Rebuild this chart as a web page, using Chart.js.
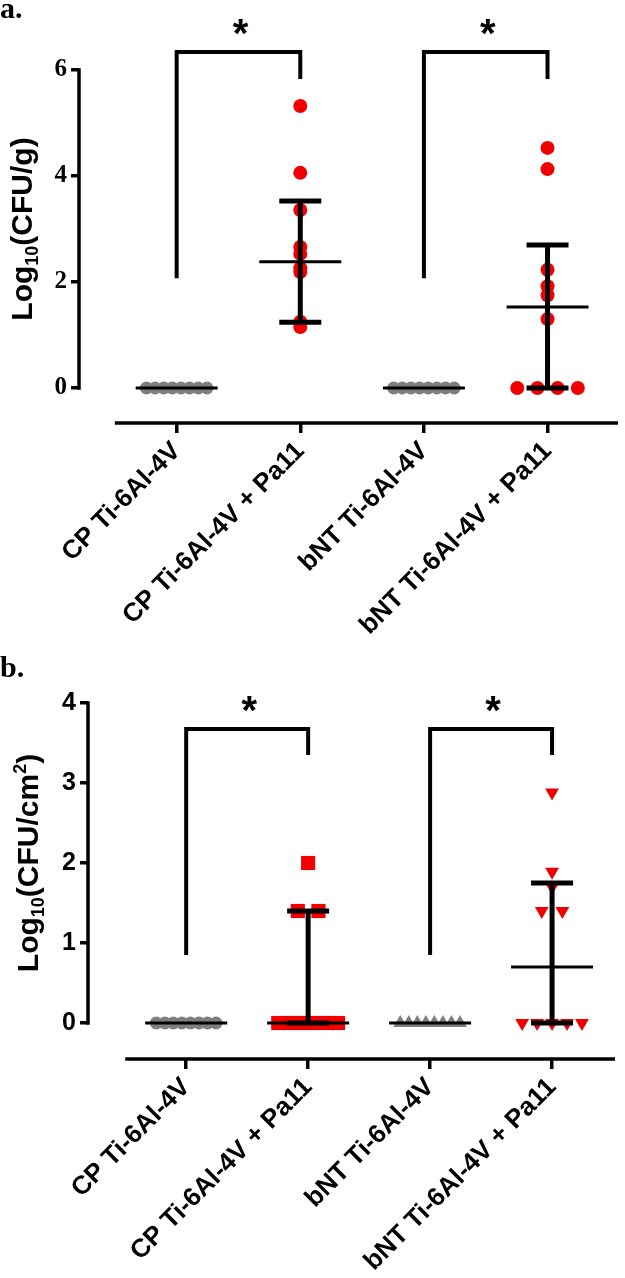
<!DOCTYPE html>
<html>
<head>
<meta charset="utf-8">
<script src="https://cdn.jsdelivr.net/npm/chart.js@4.4.1/dist/chart.umd.min.js"></script>
<style>
  body { margin: 0; width: 625px; height: 1278px; background: #fff; position: relative; overflow: hidden; }
  canvas { position: absolute; left: 0; }
  .panel-label { position: absolute; left: 0; font: bold 30px "Liberation Serif", serif; line-height: 30px; color: #000; }
</style>
</head>
<body>
<canvas id="chart-a" width="625" height="650" style="top:0"></canvas>
<canvas id="chart-b" width="625" height="628" style="top:650px"></canvas>
<div class="panel-label" style="top:-7px">a.</div>
<div class="panel-label" style="top:652px">b.</div>
<script>
// Log10 CFU, median with interquartile range, 4 groups per panel
const categories = ['CP Ti-6Al-4V', 'CP Ti-6Al-4V + Pa11', 'bNT Ti-6Al-4V', 'bNT Ti-6Al-4V + Pa11'];

// panel a: Log10(CFU/g)
const cpA = [0, 0, 0, 0, 0, 0, 0, 0];
const cpPaA = [5.32, 4.06, 3.36, 2.66, 2.53, 2.26, 2.19, 1.25, 1.15];
const bntA = [0, 0, 0, 0, 0, 0, 0, 0];
const bntPaA = [4.53, 4.13, 2.23, 1.92, 1.75, 1.3, 0, 0, 0, 0];
const medianA = [0, 2.38, 0, 1.53];
const q1A = [0, 1.24, 0, 0];
const q3A = [0, 3.53, 0, 2.70];
const yTicksA = [0, 2, 4, 6];

// panel b: Log10(CFU/cm2)
const cpB = [0, 0, 0, 0, 0, 0, 0, 0];
const cpPaB = [2.0, 1.4, 1.4, 0, 0, 0, 0, 0, 0, 0];
const bntB = [0, 0, 0, 0, 0, 0, 0, 0];
const bntPaB = [2.88, 1.89, 1.7, 1.4, 1.4, 0, 0, 0, 0, 0];
const medianB = [0, 0, 0, 0.7];
const q1B = [0, 0, 0, 0];
const q3B = [0, 1.4, 0, 1.75];
const yTicksB = [0, 1, 2, 3, 4];

// significance brackets (group pairs, bar level, left / right leg ends)
const bracketPairs = [[0, 1], [2, 3]];
const bracketTopA = [6.34, 6.34];
const bracketLeftA = [2.07, 2.07];
const bracketRightA = [5.83, 5.83];
const bracketTopB = [3.675, 3.675];
const bracketLeftB = [0.85, 0.85];
const bracketRightB = [3.35, 3.35];

const RED = '#f00000';
const GREY = '#7f7f7f';
const SANS = '"Liberation Sans", Arial, sans-serif';
const SERIF = '"Liberation Serif", "Times New Roman", serif';

// spread tied values side by side (category units)
const TIE_STEP = 0.169;
const TIE_SPAN = 0.49;
function spread(values, cat) {
    const counts = {};
    values.forEach(v => { counts[v] = (counts[v] || 0) + 1; });
    const seen = {};
    return values.map(v => {
        const k = counts[v];
        seen[v] = seen[v] === undefined ? 0 : seen[v] + 1;
        const step = k > 1 ? Math.min(TIE_STEP, TIE_SPAN / (k - 1)) : 0;
        return { x: cat + (seen[v] - (k - 1) / 2) * step, y: v };
    });
}

function drawRotatedTitle(ctx, parts, cx, cy) {
    ctx.save();
    ctx.translate(cx, cy);
    ctx.rotate(-Math.PI / 2);
    ctx.fillStyle = '#000';
    ctx.textBaseline = 'alphabetic';
    let total = 0;
    parts.forEach(p => {
        ctx.font = `bold ${p.size}px ${SANS}`;
        p.w = ctx.measureText(p.t).width;
        total += p.w;
    });
    let px = -total / 2;
    parts.forEach(p => {
        ctx.font = `bold ${p.size}px ${SANS}`;
        ctx.fillText(p.t, px, p.dy);
        px += p.w;
    });
    ctx.restore();
}

function makeDecor(cfg) {
    return {
        id: 'decor',
        beforeDatasetsDraw(chart) {
            const { ctx, scales: { x, y } } = chart;
            ctx.save();
            ctx.strokeStyle = '#000';
            ctx.lineWidth = 3.5;
            ctx.beginPath();
            ctx.moveTo(x.left, y.getPixelForValue(0) + 1.75);
            ctx.lineTo(x.left, y.getPixelForValue(cfg.yTop) - 1.75);
            ctx.moveTo(x.getPixelForValue(-0.5), y.bottom);
            ctx.lineTo(x.right, y.bottom);
            ctx.stroke();
            ctx.restore();
            drawRotatedTitle(ctx, cfg.title, cfg.titleX, (y.getPixelForValue(0) + y.getPixelForValue(cfg.yTop)) / 2);
        },
        afterDatasetsDraw(chart) {
            const { ctx, scales: { x, y } } = chart;
            ctx.save();
            ctx.strokeStyle = '#000';
            ctx.lineCap = 'butt';
            cfg.median.forEach((m, i) => {
                const cx = x.getPixelForValue(i);
                ctx.lineWidth = 3;
                ctx.beginPath();
                ctx.moveTo(cx - 41, y.getPixelForValue(m));
                ctx.lineTo(cx + 41, y.getPixelForValue(m));
                ctx.stroke();
                if (cfg.q3[i] > cfg.q1[i]) {
                    const lo = y.getPixelForValue(cfg.q1[i]);
                    const hi = y.getPixelForValue(cfg.q3[i]);
                    ctx.lineWidth = 5;
                    ctx.beginPath();
                    ctx.moveTo(cx, lo);
                    ctx.lineTo(cx, hi);
                    ctx.moveTo(cx - 21, lo);
                    ctx.lineTo(cx + 21, lo);
                    ctx.moveTo(cx - 21, hi);
                    ctx.lineTo(cx + 21, hi);
                    ctx.stroke();
                }
            });
            // brackets and stars
            ctx.lineWidth = 4;
            ctx.lineJoin = 'miter';
            ctx.fillStyle = '#000';
            ctx.font = `bold 40px ${SANS}`;
            ctx.textAlign = 'center';
            ctx.textBaseline = 'alphabetic';
            bracketPairs.forEach(([a, b], i) => {
                const xl = x.getPixelForValue(a);
                const xr = x.getPixelForValue(b);
                const top = y.getPixelForValue(cfg.bTop[i]);
                ctx.beginPath();
                ctx.moveTo(xl, y.getPixelForValue(cfg.bLeft[i]));
                ctx.lineTo(xl, top);
                ctx.lineTo(xr, top);
                ctx.lineTo(xr, y.getPixelForValue(cfg.bRight[i]));
                ctx.stroke();
                ctx.fillText('*', (xl + xr) / 2 + 2, top - 5);
            });
            ctx.restore();
        }
    };
}

function pointSet(values, cat, color, style, radius, rotation) {
    return {
        data: spread(values, cat),
        backgroundColor: color,
        borderWidth: 0,
        pointStyle: style,
        pointRadius: radius,
        pointHoverRadius: radius,
        rotation: rotation || 0,
        clip: false,
    };
}

function makeChart(id, cfg) {
    return new Chart(document.getElementById(id), {
        type: 'scatter',
        data: { datasets: cfg.datasets },
        options: {
            responsive: false,
            animation: false,
            devicePixelRatio: 1,
            events: [],
            layout: { padding: { top: cfg.padTop, right: cfg.padRight, left: 0, bottom: 0 } },
            plugins: { legend: { display: false }, tooltip: { enabled: false } },
            scales: {
                x: {
                    type: 'linear',
                    min: cfg.xMin,
                    max: cfg.xMax,
                    afterBuildTicks: s => { s.ticks = categories.map((c, i) => ({ value: i })); },
                    afterFit: s => { s.height = cfg.xHeight; s.paddingLeft = 0; s.paddingRight = 0; },
                    border: { display: false },
                    grid: { drawOnChartArea: false, drawTicks: true, tickLength: 10, lineWidth: 3.5, color: '#000' },
                    ticks: {
                        color: '#000',
                        autoSkip: false,
                        minRotation: 45,
                        maxRotation: 45,
                        padding: 3,
                        font: { family: SANS, weight: 'bold', size: 26 },
                        callback: v => categories[v],
                    },
                },
                y: {
                    min: cfg.yMin,
                    max: cfg.yMax,
                    afterBuildTicks: s => { s.ticks = cfg.yTicks.map(v => ({ value: v })); },
                    afterFit: s => { s.width = cfg.yWidth; s.paddingTop = 0; s.paddingBottom = 0; },
                    border: { display: false },
                    grid: { drawOnChartArea: false, drawTicks: true, tickLength: 8, lineWidth: 3.5, color: '#000' },
                    ticks: {
                        color: '#000',
                        autoSkip: false,
                        padding: 4,
                        font: { family: cfg.tickFamily, weight: 'bold', size: 25 },
                    },
                },
            },
        },
        plugins: [makeDecor(cfg)],
    });
}

makeChart('chart-a', {
    datasets: [
        pointSet(cpA, 0, GREY, 'circle', 6.5),
        pointSet(cpPaA, 1, RED, 'circle', 7),
        pointSet(bntA, 2, GREY, 'circle', 6.5),
        pointSet(bntPaA, 3, RED, 'circle', 7),
    ],
    xMin: -0.79, xMax: 3.57, yMin: -0.66, yMax: 7.0,
    padTop: 17, padRight: 4, xHeight: 227, yWidth: 79,
    yTicks: yTicksA, yTop: 6, tickFamily: SERIF,
    median: medianA, q1: q1A, q3: q3A,
    bTop: bracketTopA, bLeft: bracketLeftA, bRight: bracketRightA,
    titleX: 21,
    title: [
        { t: 'Log', size: 30, dy: 11 },
        { t: '10', size: 18, dy: 17 },
        { t: '(CFU/g)', size: 30, dy: 11 },
    ],
});

makeChart('chart-b', {
    datasets: [
        pointSet(cpB, 0, GREY, 'circle', 6.5),
        pointSet(cpPaB, 1, RED, 'rect', 10),
        pointSet(bntB, 2, GREY, 'triangle', 8),
        pointSet(bntPaB, 3, RED, 'triangle', 8, 180),
    ],
    xMin: -0.805, xMax: 3.516, yMin: -0.45, yMax: 4.5,
    padTop: 13, padRight: 0, xHeight: 219, yWidth: 88,
    yTicks: yTicksB, yTop: 4, tickFamily: SANS,
    median: medianB, q1: q1B, q3: q3B,
    bTop: bracketTopB, bLeft: bracketLeftB, bRight: bracketRightB,
    titleX: 27,
    title: [
        { t: 'Log', size: 30, dy: 11 },
        { t: '10', size: 18, dy: 17 },
        { t: '(CFU/cm', size: 30, dy: 11 },
        { t: '2', size: 18, dy: -1 },
        { t: ')', size: 30, dy: 11 },
    ],
});
</script>
</body>
</html>
